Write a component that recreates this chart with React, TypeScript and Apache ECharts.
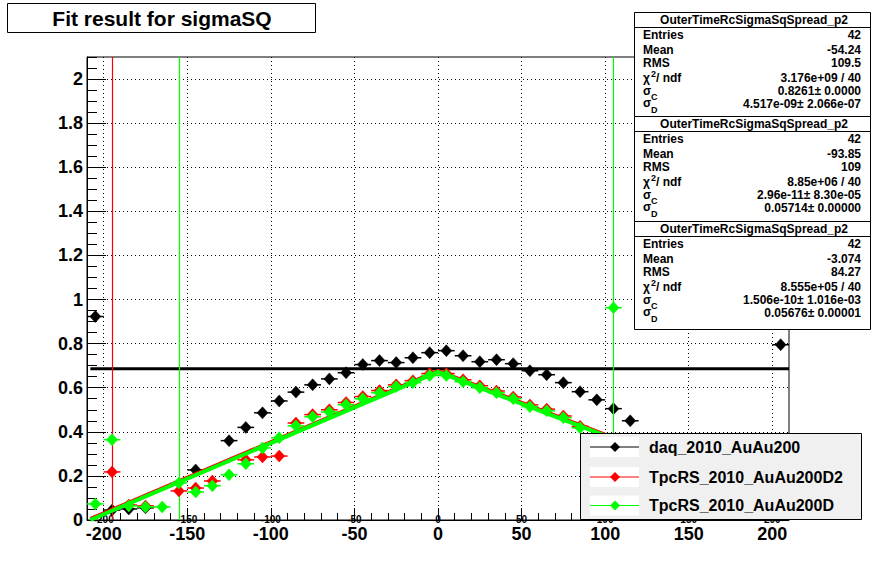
import React, { useEffect, useRef } from "react";
import * as echarts from "echarts";

// ---- axis ticks ----
const xTicks = [-200, -150, -100, -50, 0, 50, 100, 150, 200];
const yTicks = [0, 0.2, 0.4, 0.6, 0.8, 1, 1.2, 1.4, 1.6, 1.8, 2];

// ---- series: [bin centre, value] ----
const daqPoints: [number, number][] = [
  [-205, 0.923], [-195, 0.045], [-185, 0.05], [-175, 0.055], [-145, 0.227],
  [-125, 0.36], [-115, 0.42], [-105, 0.486], [-95, 0.54], [-85, 0.58],
  [-75, 0.613], [-65, 0.64], [-55, 0.668], [-45, 0.705], [-35, 0.723],
  [-25, 0.714], [-15, 0.736], [-5, 0.759], [5, 0.768], [15, 0.745],
  [25, 0.718], [35, 0.727], [45, 0.709], [55, 0.677], [65, 0.659],
  [75, 0.623], [85, 0.582], [95, 0.545], [105, 0.505], [115, 0.45], [205, 0.795],
];
const d2Points: [number, number][] = [
  [-195, 0.218], [-185, 0.068], [-175, 0.064], [-155, 0.132], [-145, 0.145],
  [-135, 0.177], [-115, 0.273], [-105, 0.286], [-95, 0.29], [-85, 0.44],
  [-75, 0.478], [-65, 0.5], [-55, 0.533], [-45, 0.56], [-35, 0.587],
  [-25, 0.613], [-15, 0.632], [-5, 0.664], [5, 0.664], [15, 0.636],
  [25, 0.609], [35, 0.585], [45, 0.558], [55, 0.522], [65, 0.503],
  [75, 0.472], [85, 0.425],
];
const dPoints: [number, number][] = [
  [-205, 0.073], [-195, 0.364], [-185, 0.064], [-175, 0.059], [-165, 0.059],
  [-155, 0.168], [-145, 0.127], [-135, 0.155], [-125, 0.205], [-115, 0.255],
  [-105, 0.327], [-95, 0.373], [-85, 0.427], [-75, 0.468], [-65, 0.49],
  [-55, 0.523], [-45, 0.55], [-35, 0.577], [-25, 0.605], [-15, 0.623],
  [-5, 0.655], [5, 0.655], [15, 0.627], [25, 0.6], [35, 0.577],
  [45, 0.55], [55, 0.514], [65, 0.495], [75, 0.464], [85, 0.418], [105, 0.963],
];
const binHalfWidth = 5;

// bins whose vertical error bars span the whole frame
const d2WideErrX = [-195];
const dWideErrX = [-155, 105];

// fit functions (piecewise straight)
const d2Fit: [number, number][] = [[-208, 0.008], [0, 0.68], [100, 0.391]];
const dFit: [number, number][] = [[-208, 0.0], [0, 0.672], [100, 0.383]];

// horizontal reference line
const levelLine: [number, number][] = [[-208, 0.686], [210, 0.686]];

// ---- legend ----
const legendNames = ["daq_2010_AuAu200", "TpcRS_2010_AuAu200D2", "TpcRS_2010_AuAu200D"];
const legendColors = ["#000000", "#ff0000", "#00ff00"];

// ---- stats boxes ----
const statsTitles = ["OuterTimeRcSigmaSqSpread_p2", "OuterTimeRcSigmaSqSpread_p2", "OuterTimeRcSigmaSqSpread_p2"];
const statsEntries = ["42", "42", "42"];
const statsMean = ["-54.24", "-93.85", "-3.074"];
const statsRms = ["109.5", "109", "84.27"];
const statsChi2 = ["3.176e+09 / 40", "8.85e+06 / 40", "8.555e+05 / 40"];
const statsSigmaC = ["0.8261± 0.0000", "2.96e-11± 8.30e-05", "1.506e-10± 1.016e-03"];
const statsSigmaD = ["4.517e-09± 2.066e-07", "0.05714± 0.00000", "0.05676± 0.00001"];

const titleText = "Fit result for sigmaSQ";
const FONT = '"Liberation Sans", Arial, Helvetica, sans-serif';

function pointSeries(name: string, data: [number, number][], color: string, z: number) {
  return {
    type: "custom",
    name,
    xAxisIndex: 0,
    yAxisIndex: 0,
    z,
    data,
    renderItem: (params: any, api: any) => {
      const x = api.value(0);
      const y = api.value(1);
      const p = api.coord([x, y]);
      const l = api.coord([x - binHalfWidth, y]);
      const r = api.coord([x + binHalfWidth, y]);
      const h = 6;
      const w = 5.5;
      return {
        type: "group",
        children: [
          {
            type: "line",
            shape: { x1: l[0], y1: p[1], x2: r[0], y2: p[1] },
            style: { stroke: color, lineWidth: 1.5 },
          },
          {
            type: "polygon",
            shape: { points: [[p[0], p[1] - h], [p[0] + w, p[1]], [p[0], p[1] + h], [p[0] - w, p[1]]] },
            style: { fill: color, stroke: color, lineWidth: 0.5 },
          },
        ],
      };
    },
  };
}

function txt(x: number, y: number, text: string, size: number, align: string) {
  return {
    type: "text",
    z: 110,
    x,
    y,
    style: {
      text,
      fill: "#000",
      font: `bold ${size}px ${FONT}`,
      lineHeight: size,
      align,
      verticalAlign: "middle",
      textAlign: align,
      textVerticalAlign: "middle",
    },
  };
}

function buildGraphics() {
  const els: any[] = [];
  // title box
  els.push({
    type: "rect", z: 100,
    shape: { x: 7.5, y: 3.5, width: 308, height: 29 },
    style: { fill: "#fff", stroke: "#000", lineWidth: 1 },
  });
  els.push(txt(162, 18.5, titleText, 21, "center"));

  // stats boxes
  const boxTops = [12, 116, 221];
  const boxHeights = [104, 105, 108];
  const bx = 634;
  const bw = 236;
  const lx = 643;
  const rx = 861;
  for (let i = 0; i < 3; i++) {
    const t = boxTops[i];
    els.push({
      type: "rect", z: 100,
      shape: { x: bx + 0.5, y: t + 0.5, width: bw, height: boxHeights[i] },
      style: { fill: "#fff", stroke: "#000", lineWidth: 1 },
    });
    els.push({
      type: "line", z: 105,
      shape: { x1: bx, y1: t + 15.5, x2: bx + bw, y2: t + 15.5 },
      style: { stroke: "#000", lineWidth: 1 },
    });
    els.push(txt(bx + bw / 2 + 2, t + 8, statsTitles[i], 12, "center"));
    els.push(txt(lx, t + 23, "Entries", 12, "left"));
    els.push(txt(rx, t + 23, statsEntries[i], 12, "right"));
    els.push(txt(lx, t + 38, "Mean", 12, "left"));
    els.push(txt(rx, t + 38, statsMean[i], 12, "right"));
    els.push(txt(lx, t + 51, "RMS", 12, "left"));
    els.push(txt(rx, t + 51, statsRms[i], 12, "right"));
    // chi^2 / ndf
    els.push(txt(lx + 8, t + 61.5, "2", 9, "left"));
    els.push(txt(lx, t + 66, "χ", 12, "left"));
    els.push(txt(lx + 13, t + 66, "/ ndf", 12, "left"));
    els.push(txt(rx, t + 66, statsChi2[i], 12, "right"));
    // sigma_C
    els.push(txt(lx, t + 78.5, "σ", 12, "left"));
    els.push(txt(lx + 8, t + 84.5, "C", 9, "left"));
    els.push(txt(rx, t + 79, statsSigmaC[i], 12, "right"));
    // sigma_D
    els.push(txt(lx, t + 91, "σ", 12, "left"));
    els.push(txt(lx + 8, t + 97.5, "D", 9, "left"));
    els.push(txt(rx, t + 92, statsSigmaD[i], 12, "right"));
  }

  // legend
  els.push({
    type: "rect", z: 100,
    shape: { x: 580.5, y: 433.5, width: 281, height: 86 },
    style: { fill: "#f0f0f0", stroke: "#000", lineWidth: 1 },
  });
  const rowY = [447, 477, 505.5];
  for (let i = 0; i < legendNames.length; i++) {
    const cy = rowY[i];
    els.push({
      type: "rect", z: 105,
      shape: { x: 590, y: cy - 10, width: 49, height: 20 },
      style: { fill: "#fff" },
    });
    els.push({
      type: "line", z: 106,
      shape: { x1: 590, y1: cy, x2: 639, y2: cy },
      style: { stroke: legendColors[i], lineWidth: 1 },
    });
    els.push({
      type: "polygon", z: 107,
      shape: { points: [[615, cy - 5], [620, cy], [615, cy + 5], [610, cy]] },
      style: { fill: legendColors[i] },
    });
    els.push(txt(649, cy, legendNames[i], 16, "left"));
  }
  return els;
}

export default function App() {
  const ref = useRef<HTMLDivElement>(null);
  useEffect(() => {
    if (!ref.current) return;
    const chart = echarts.init(ref.current, undefined, { renderer: "svg" });
    const dotted = { type: [1, 3], color: "#000", width: 1 };
    const option: any = {
      animation: false,
      backgroundColor: "#ffffff",
      textStyle: { fontFamily: FONT },
      grid: {
        left: 87, top: 57, width: 702, height: 463,
        show: true, borderColor: "#000", borderWidth: 1, backgroundColor: "transparent",
      },
      xAxis: [
        {
          type: "value", min: -210, max: 210, position: "bottom",
          axisLine: { show: true, onZero: false, lineStyle: { color: "#000", width: 1 } },
          axisTick: { show: true, inside: true, length: 12, customValues: xTicks, lineStyle: { color: "#000" } },
          axisLabel: {
            customValues: xTicks, fontFamily: FONT, fontWeight: "bold", fontSize: 18, color: "#000", margin: 5,
            formatter: (v: number) => String(Math.round(v)),
          },
          splitLine: { show: true, lineStyle: dotted },
        },
        {
          type: "value", min: -210, max: 210, interval: 10, position: "bottom",
          axisLine: { show: false, onZero: false },
          axisTick: { show: true, inside: true, length: 7, lineStyle: { color: "#000" } },
          axisLabel: { show: false },
          splitLine: { show: false },
        },
        {
          type: "value", min: -210, max: 210, position: "bottom",
          axisLine: { show: false, onZero: false },
          axisTick: { show: false, customValues: xTicks },
          axisLabel: {
            customValues: xTicks, fontFamily: FONT, fontWeight: "bold", fontSize: 10, color: "#000",
            margin: -1, verticalAlign: "middle", lineHeight: 10,
            formatter: (v: number) => String(Math.round(v)),
          },
          splitLine: { show: false },
        },
      ],
      yAxis: [
        {
          type: "value", min: 0, max: 2.1, position: "left",
          axisLine: { show: true, onZero: false, lineStyle: { color: "#000", width: 1 } },
          axisTick: { show: true, inside: true, length: 19, customValues: yTicks, lineStyle: { color: "#000" } },
          axisLabel: {
            customValues: yTicks, fontFamily: FONT, fontWeight: "bold", fontSize: 18, color: "#000", margin: 4,
            formatter: (v: number) => String(Math.round(v * 10) / 10),
          },
          splitLine: { show: true, lineStyle: dotted },
        },
        {
          type: "value", min: 0, max: 2.1, interval: 0.05, position: "left",
          axisLine: { show: false, onZero: false },
          axisTick: { show: true, inside: true, length: 10, lineStyle: { color: "#000" } },
          axisLabel: { show: false },
          splitLine: { show: false },
        },
      ],
      series: [
        {
          type: "line", name: "level", data: levelLine, showSymbol: false, symbol: "none", z: 3,
          lineStyle: { color: "#000", width: 3 },
        },
        pointSeries("daq_2010_AuAu200", daqPoints, "#000000", 4),
        {
          type: "line", name: "fitD2", data: d2Fit, showSymbol: false, symbol: "none", z: 5,
          lineStyle: { color: "#ff0000", width: 2.5 },
          markLine: {
            silent: true, symbol: "none", label: { show: false },
            lineStyle: { color: "#ff0000", width: 1.2, type: "solid", opacity: 1 },
            data: d2WideErrX.map((x) => ({ xAxis: x })),
          },
        },
        pointSeries("TpcRS_2010_AuAu200D2", d2Points, "#ff0000", 6),
        {
          type: "line", name: "fitD", data: dFit, showSymbol: false, symbol: "none", z: 7,
          lineStyle: { color: "#00ff00", width: 4 },
          markLine: {
            silent: true, symbol: "none", label: { show: false },
            lineStyle: { color: "#00ff00", width: 1.2, type: "solid", opacity: 1 },
            data: dWideErrX.map((x) => ({ xAxis: x })),
          },
        },
        pointSeries("TpcRS_2010_AuAu200D", dPoints, "#00ff00", 8),
      ],
      graphic: { elements: buildGraphics() },
    };
    chart.setOption(option);
    return () => chart.dispose();
  }, []);
  return (
    <div
      ref={ref}
      style={{ position: "fixed", left: 0, top: 0, width: 878, height: 578, background: "#fff" }}
    />
  );
}
